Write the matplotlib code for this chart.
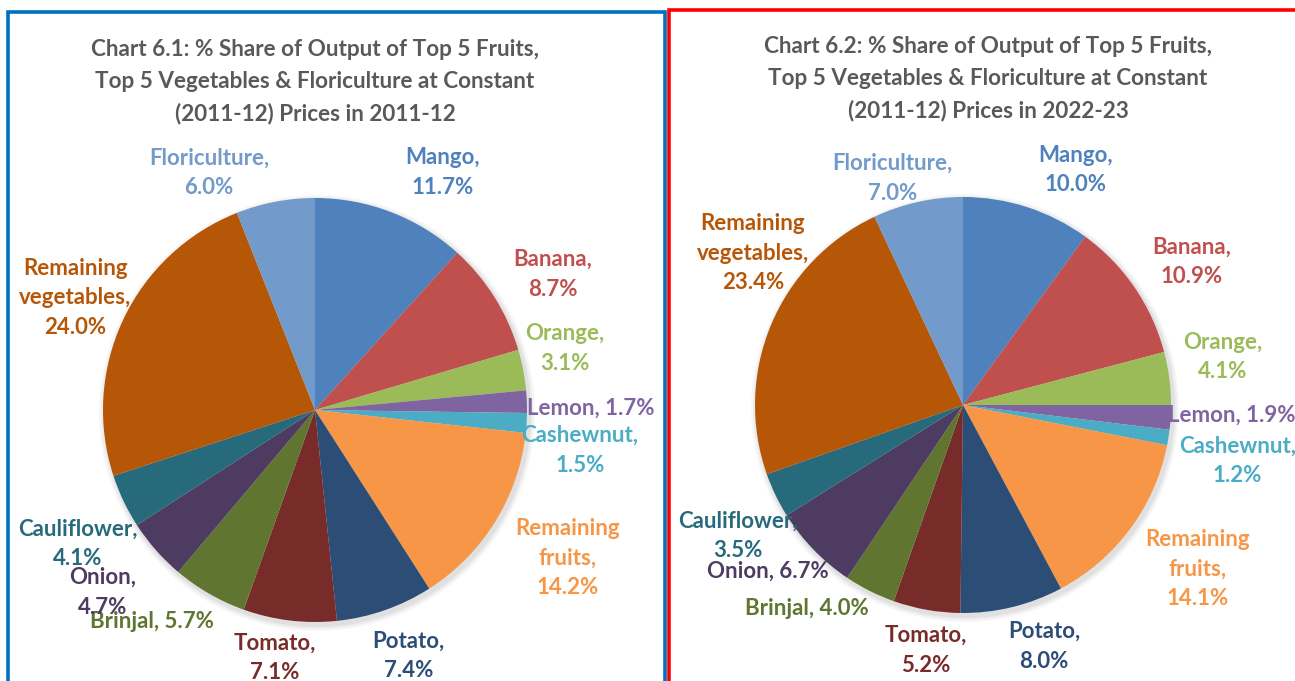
import matplotlib
matplotlib.use("Agg")
import matplotlib.pyplot as plt
from matplotlib.patches import Rectangle

# ---------------- data ----------------
categories = ["Mango", "Banana", "Orange", "Lemon", "Cashewnut", "Remaining\nfruits",
              "Potato", "Tomato", "Brinjal", "Onion", "Cauliflower",
              "Remaining\nvegetables", "Floriculture"]
share_2011_12 = [11.7, 8.7, 3.1, 1.7, 1.5, 14.2, 7.4, 7.1, 5.7, 4.7, 4.1, 24.0, 6.0]
share_2022_23 = [10.0, 10.9, 4.1, 1.9, 1.2, 14.1, 8.0, 5.2, 4.0, 6.7, 3.5, 23.4, 7.0]
title_1 = "Chart 6.1: % Share of Output of Top 5 Fruits,\nTop 5 Vegetables & Floriculture at Constant\n(2011-12) Prices in 2011-12"
title_2 = "Chart 6.2: % Share of Output of Top 5 Fruits,\nTop 5 Vegetables & Floriculture at Constant\n(2011-12) Prices in 2022-23"

colors = ["#4F81BD", "#C0504D", "#9BBB59", "#8064A2", "#4BACC6", "#F79646",
          "#2C4D75", "#772C2A", "#5F7530", "#4D3B62", "#276A7C", "#B65708", "#729ACA"]

# ---------------- layout ----------------
W, H = 1295, 681
FONT = ["Lato", "DejaVu Sans"]
TITLE_COLOR = "#595959"

# separator between name and value (" " = same line, "\n" = new line)
sep_1 = ["\n", "\n", "\n", " ", "\n", "\n", "\n", "\n", " ", "\n", "\n", "\n", "\n"]
sep_2 = ["\n", "\n", "\n", " ", "\n", "\n", "\n", "\n", " ", " ", "\n", "\n", "\n"]
# label offsets relative to pie centre in units of radius
off_1 = [(0.60, 1.12), (1.12, 0.64), (1.18, 0.29), (1.30, 0.01), (1.25, -0.19),
         (1.19, -0.70), (0.44, -1.16), (-0.19, -1.17), (-0.77, -1.00), (-1.00, -0.86),
         (-1.12, -0.63), (-1.13, 0.53), (-0.50, 1.12)]
off_2 = [(0.54, 1.13), (1.10, 0.69), (1.25, 0.23), (1.29, -0.05), (1.32, -0.27),
         (1.13, -0.79), (0.39, -1.16), (-0.18, -1.18), (-0.75, -0.98), (-0.94, -0.80),
         (-1.08, -0.63), (-1.01, 0.73), (-0.34, 1.09)]

fig = plt.figure(figsize=(W / 100, H / 100), dpi=100)
ax = fig.add_axes([0, 0, 1, 1])
ax.set_xlim(0, W)
ax.set_ylim(0, H)
ax.set_aspect("equal")
ax.axis("off")

# panel borders
ax.add_patch(Rectangle((8, -10), 657, H - 12 + 10, fill=False, ec="#0070C0", lw=2.6, zorder=0))
ax.add_patch(Rectangle((669, -10), 640, H - 10 + 10, fill=False, ec="#FF0000", lw=2.6, zorder=0))


def draw_panel(values, seps, offs, title, cx, cy, R, tx, ty):
    cy_d = H - cy
    # soft shadow
    for k, a in enumerate([0.05, 0.04, 0.03]):
        sh = plt.Circle((cx + 2, cy_d - 3), R + 2 + k * 2, color="black", alpha=a, lw=0, zorder=1)
        ax.add_patch(sh)
    ax.pie(values, colors=colors, startangle=90, counterclock=False,
           center=(cx, cy_d), radius=R, frame=True,
           wedgeprops=dict(linewidth=0, zorder=2))
    for name, v, s, (dx, dy), c in zip(categories, values, seps, offs, colors):
        ax.text(cx + dx * R, cy_d + dy * R, f"{name},{s}{v:.1f}%", color=c,
                ha="center", va="center", fontsize=16, fontweight="bold",
                family=FONT, linespacing=1.5, zorder=5)
    ax.text(tx, H - ty, title, color=TITLE_COLOR, ha="center", va="center",
            fontsize=16.2, fontweight="bold", family=FONT, linespacing=1.62, zorder=5)


draw_panel(share_2011_12, sep_1, off_1, title_1, 315, 410, 212, 315, 82)
draw_panel(share_2022_23, sep_2, off_2, title_2, 963, 405, 208, 988, 79)

ax.set_xlim(0, W)
ax.set_ylim(0, H)
ax.axis("off")

fig.savefig("out.png", dpi=100)
